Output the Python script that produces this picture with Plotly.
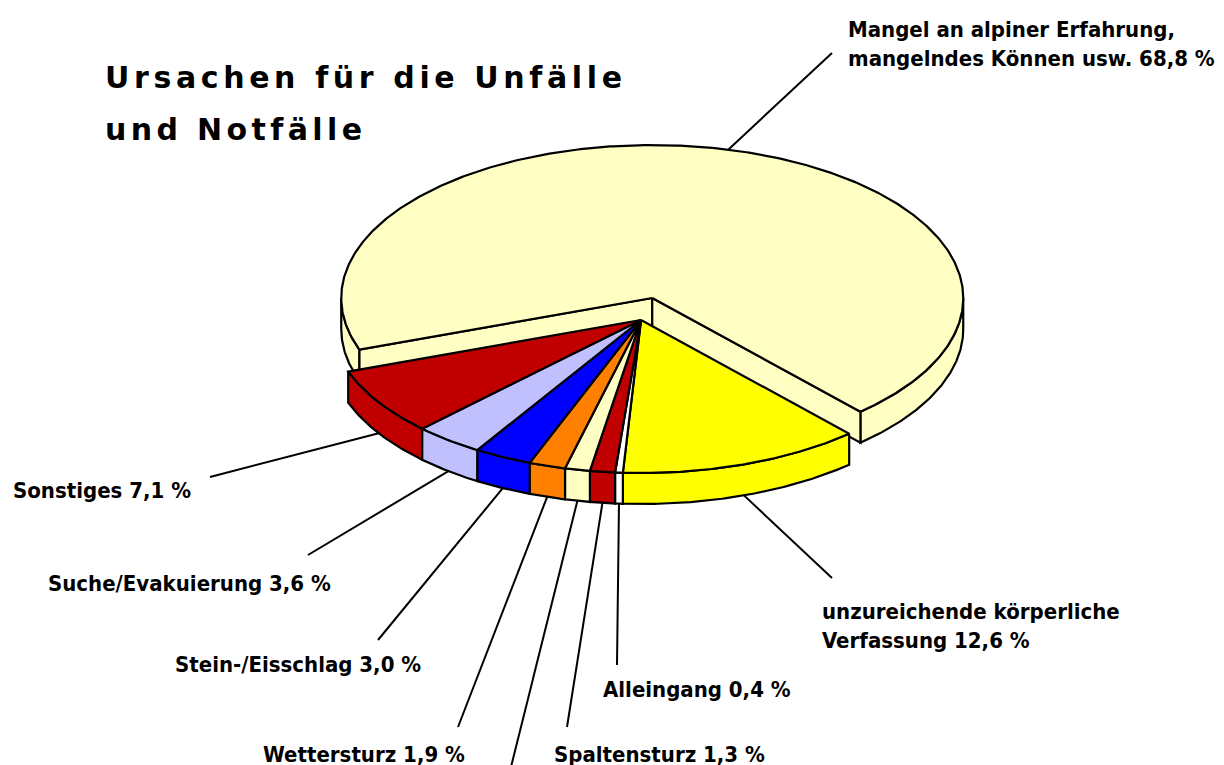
import numpy as np
import plotly.graph_objects as go

# ---------------- data ----------------
categories = [
    "Mangel an alpiner Erfahrung,<br>mangelndes Können usw.",
    "unzureichende körperliche<br>Verfassung",
    "Alleingang",
    "Spaltensturz",
    "",                      # label lies below the visible area in the original
    "Wettersturz",
    "Stein-/Eisschlag",
    "Suche/Evakuierung",
    "Sonstiges",
]
values = [68.8, 12.6, 0.4, 1.3, 1.3, 1.9, 3.0, 3.6, 7.1]
colors = ["#FFFFC4", "#FFFF00", "#FFFFFF", "#C00000", "#FFFFC4",
          "#FF8000", "#0000FF", "#C0C0FF", "#C00000"]
explode = [0.148, 0, 0, 0, 0, 0, 0, 0, 0]
title_lines = ["Ursachen für die Unfälle", "und Notfälle"]

# ---------------- layout / style ----------------
W, H = 1224, 765
CX, CY = 641, 320          # pie centre (pixels)
RX, RY = 311, 153          # ellipse semi axes
DEPTH = 31                 # thickness of the 3D pie
START = 160.3              # start angle of first slice (deg, clockwise from 3 o'clock)
EDGE = dict(color="black", width=2.2)

# label placements: (leader end x, leader end y, text left x, text centre y)
label_layout = [
    (832, 53, 846, 44),
    (832, 578, 820, 626),
    (617, 665, 601, 689),
    (567, 727, 552, 754),
    (509, 775, None, None),
    (458, 727, 261, 754),
    (378, 640, 173, 664),
    (308, 555, 46, 583),
    (210, 477, 11, 490),
]
# title lines: (left x, right x, centre y)
title_layout = [(105, 622, 77), (105, 362, 129)]

LABEL_FONT = dict(family="Liberation Sans Narrow, DejaVu Sans Condensed, Arial Narrow, sans-serif",
                  size=22, color="black", weight="bold")
TITLE_FONT = dict(family="DejaVu Sans, Arial Black, sans-serif", size=30,
                  color="black", weight="bold")


def fmt(v):
    return f"{v:.1f}".replace(".", ",") + " %"


total = sum(values)
angles = []
a = START
for v in values:
    span = 360.0 * v / total
    angles.append((a, a + span))
    a += span


def rim(t_deg, dx, dy, down=0.0):
    t = np.radians(t_deg)
    return CX + dx + RX * np.cos(t), CY + dy + RY * np.sin(t) + down


fig = go.Figure()


def add_poly(xs, ys, fill):
    xs = list(xs) + [xs[0]]
    ys = list(ys) + [ys[0]]
    fig.add_trace(go.Scatter(x=xs, y=ys, mode="lines", fill="toself",
                             fillcolor=fill, line=EDGE, hoverinfo="skip",
                             showlegend=False))


def side_faces(t0, t1, dx, dy, col):
    # visible (front) parts of the outer wall: sin(t) >= 0
    segs = []
    k0 = int(np.floor(t0 / 360.0)) - 1
    for k in range(k0, k0 + 4):
        lo, hi = 360 * k, 360 * k + 180
        s, e = max(t0, lo), min(t1, hi)
        if e > s:
            segs.append((s, e))
    for s, e in segs:
        ts = np.linspace(s, e, max(2, int((e - s) * 2) + 2))
        top = [rim(t, dx, dy) for t in ts]
        bot = [rim(t, dx, dy, DEPTH) for t in ts[::-1]]
        pts = top + bot
        add_poly([p[0] for p in pts], [p[1] for p in pts], col)


def cut_face(phi, dx, dy, col):
    ax, ay = CX + dx, CY + dy
    rx, ry = rim(phi, dx, dy)
    add_poly([ax, rx, rx, ax], [ay, ry, ry + DEPTH, ay + DEPTH], col)


def top_face(t0, t1, dx, dy, col):
    ts = np.linspace(t0, t1, max(2, int((t1 - t0) * 2) + 2))
    pts = [(CX + dx, CY + dy)] + [rim(t, dx, dy) for t in ts]
    add_poly([p[0] for p in pts], [p[1] for p in pts], col)


offsets = []
for (t0, t1), ex in zip(angles, explode):
    m = np.radians((t0 + t1) / 2)
    offsets.append((ex * RX * np.cos(m), ex * RY * np.sin(m)))

# exploded (back) slices first, then the rest
order = sorted(range(len(values)), key=lambda i: -explode[i])
for group in ([i for i in order if explode[i] > 0], [i for i in order if explode[i] == 0]):
    for i in group:
        t0, t1 = angles[i]
        dx, dy = offsets[i]
        side_faces(t0, t1, dx, dy, colors[i])
        if explode[i] > 0:
            if -np.cos(np.radians(t0)) > 0:
                cut_face(t0, dx, dy, colors[i])
            if np.cos(np.radians(t1)) > 0:
                cut_face(t1, dx, dy, colors[i])
    for i in group:
        t0, t1 = angles[i]
        dx, dy = offsets[i]
        top_face(t0, t1, dx, dy, colors[i])

# leader lines and labels
for i, (cat, v) in enumerate(zip(categories, values)):
    t0, t1 = angles[i]
    m = (t0 + t1) / 2
    dx, dy = offsets[i]
    front = np.sin(np.radians(m)) > 0
    sx, sy = rim(m, dx, dy, DEPTH if front else 0)
    ex_, ey_, lx, ly = label_layout[i]
    fig.add_trace(go.Scatter(x=[sx, ex_], y=[sy, ey_], mode="lines",
                             line=dict(color="black", width=2),
                             hoverinfo="skip", showlegend=False))
    if cat and lx is not None:
        fig.add_annotation(x=lx, y=ly, xref="x", yref="y", xanchor="left",
                           yanchor="middle", align="left", showarrow=False,
                           text=f"{cat} {fmt(v)}", font=LABEL_FONT)

for line, (tl, tr, ty) in zip(title_lines, title_layout):
    fig.add_annotation(x=tl, y=ty, xref="x", yref="y", xanchor="left", yanchor="middle",
                       showarrow=False, text=line, font=TITLE_FONT)

fig.update_layout(
    width=W, height=H, margin=dict(l=0, r=0, t=0, b=0),
    paper_bgcolor="white", plot_bgcolor="white",
    xaxis=dict(range=[0, W], visible=False, fixedrange=True),
    yaxis=dict(range=[H, 0], visible=False, fixedrange=True),
)

# spread the title letters (wide tracking of the original) to fit their extents
targets = "[" + ",".join(f"['{t}',{l},{r}]" for t, (l, r, _) in zip(title_lines, title_layout)) + "]"
post_js = """
document.body.style.margin = '0px';
var gd = document.getElementById('{plot_id}');
var targets = %s;
gd.querySelectorAll('g.annotation text').forEach(function (t) {
  var s = t.textContent;
  targets.forEach(function (tg) {
    if (s === tg[0]) {
      var w = t.getComputedTextLength();
      var ls = (tg[2] - tg[1] - w) / (s.length - 1);
      t.style.letterSpacing = ls + 'px';
      var bb = t.getBoundingClientRect();
      var dx = tg[1] - bb.left;
      t.setAttribute('transform', 'translate(' + dx + ',0)');
    }
  });
});
""" % targets
fig.write_html("out.html", post_script=post_js, config={"displayModeBar": False})
